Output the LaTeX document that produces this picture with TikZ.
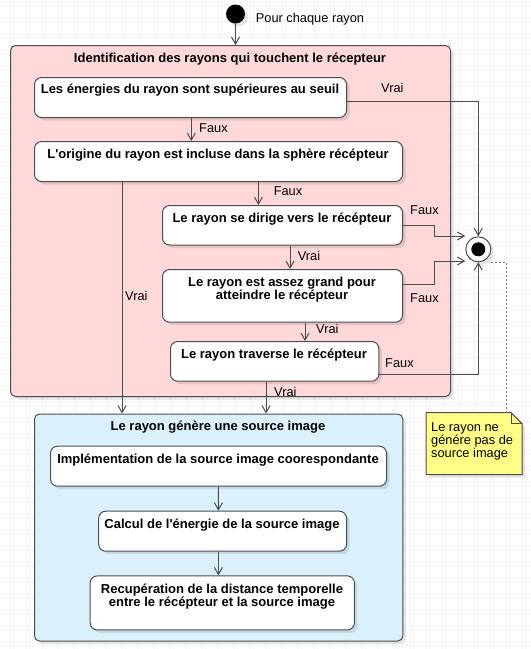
\documentclass[tikz,border=0pt]{standalone}
\usepackage{fontspec}
\setmainfont{Liberation Sans}[Ligatures=TeXOff]
\usetikzlibrary{arrows.meta,shadows,calc}
\definecolor{pinkf}{HTML}{FFD9D9}
\definecolor{bluef}{HTML}{DAF1FC}
\definecolor{notef}{HTML}{FFFF88}
\definecolor{edgec}{HTML}{4D4D4D}
\definecolor{gridc}{HTML}{F3F3F3}
\newcommand{\twoc}[2]{\begin{tabular}[t]{@{}c@{}}#1\\#2\end{tabular}}
\begin{document}
\begin{tikzpicture}[x=1pt,y=-1pt,
  font=\fontsize{12.8}{13.5}\selectfont,
  shd/.style={drop shadow={shadow xshift=3pt,shadow yshift=-3pt,fill=black,opacity=0.1}},
  container/.style={draw=edgec,line width=1pt,rounded corners=5pt,shd,inner sep=0pt,anchor=north west},
  stepbox/.style={draw=edgec,fill=white,line width=1pt,rounded corners=7pt,shd,inner sep=0pt,anchor=north west},
  btxt/.style={font=\fontsize{13}{13.5}\selectfont\bfseries,anchor=base,inner sep=0pt,align=center},
  lbl/.style={anchor=base west,inner sep=0pt},
  conn/.style={draw=edgec,line width=1pt,-{Straight Barb[length=7pt,width=8pt]}},
  ]
\useasboundingbox (0,0) rectangle (531,649);
\fill[white] (0,0) rectangle (531,649);
% grid
\begin{scope}[gridc,line width=0.6pt]
\foreach \x in {10.7,26.7,...,531} \draw (\x,0) -- (\x,649);
\foreach \y in {5.3,21.3,...,649} \draw (0,\y) -- (531,\y);
\end{scope}

% start
\node[circle,fill=black,minimum size=19pt,inner sep=0pt,shd] (start) at (235.5,14) {};
\node[lbl] (startlbl) at (255.7,22) {Pour chaque rayon};

% pink container
\node[container,fill=pinkf,minimum width=440pt,minimum height=351pt] (pink) at (10,45) {};
\node[btxt] (pinkt) at (230,62) {Identification des rayons qui touchent le récepteur};

\node[stepbox,minimum width=312pt,minimum height=40pt] (b1) at (34,77) {};
\node[btxt] (b1t) at (190,93.7) {Les énergies du rayon sont supérieures au seuil};
\node[stepbox,minimum width=368pt,minimum height=40pt] (b2) at (34,141) {};
\node[btxt] (b2t) at (218,158.4) {L'origine du rayon est incluse dans la sphère récépteur};
\node[stepbox,minimum width=240pt,minimum height=39.5pt] (b3) at (162,205) {};
\node[btxt] (b3t) at (282,222.1) {Le rayon se dirige vers le récépteur};
\node[stepbox,minimum width=240pt,minimum height=52.7pt] (b4) at (162,269) {};
\node[btxt] (b4t) at (282,286.1) {\twoc{Le rayon est assez grand pour}{atteindre le récépteur}};
\node[stepbox,minimum width=208.3pt,minimum height=39.7pt] (b5) at (170,341) {};
\node[btxt] (b5t) at (274,358.4) {Le rayon traverse le récépteur};

% blue container
\node[container,fill=bluef,minimum width=368.3pt,minimum height=227pt] (blue) at (34,413.5) {};
\node[btxt] (bluet) at (218,430.8) {Le rayon génère une source image};
\node[stepbox,minimum width=336pt,minimum height=40pt] (b6) at (50,445.7) {};
\node[btxt] (b6t) at (218,463) {Implémentation de la source image coorespondante};
\node[stepbox,minimum width=247.8pt,minimum height=40pt] (b7) at (98.2,510.7) {};
\node[btxt] (b7t) at (222,528) {Calcul de l'énergie de la source image};
\node[stepbox,minimum width=264.2pt,minimum height=54pt] (b8) at (89.7,575.4) {};
\node[btxt] (b8t) at (222,593) {\twoc{Recupération de la distance temporelle}{entre le récépteur et la source image}};

% final node
\node[circle,draw=edgec,fill=white,line width=1pt,minimum size=25pt,inner sep=0pt,shd] (fin) at (478.3,249.3) {};
\node[circle,fill=black,minimum size=14pt,inner sep=0pt] (finin) at (fin) {};

% note
\node[inner sep=0pt,minimum width=95.7pt,minimum height=61.6pt,anchor=north west] (note) at (426,412.7) {};
\fill[black,opacity=0.1] ([xshift=3pt,yshift=-3pt]note.south west) -- ([xshift=3pt,yshift=-3pt]note.north west) -- ([xshift=-8pt,yshift=-3pt]note.north east) -- ([xshift=3pt,yshift=-14pt]note.north east) -- ([xshift=3pt,yshift=-3pt]note.south east) -- cycle;
\draw[edgec,fill=notef,line width=1pt] (note.south west) -- (note.north west) -- ([xshift=-11pt]note.north east) -- ([yshift=-11pt]note.north east) -- (note.south east) -- cycle;
\draw[edgec,line width=1pt] ([xshift=-11pt]note.north east) -- ([xshift=-11pt,yshift=-11pt]note.north east) -- ([yshift=-11pt]note.north east);
\node[anchor=base west,inner sep=0pt,font=\fontsize{12.8}{12.5}\selectfont] (notet) at (431,431.1) {\begin{tabular}[t]{@{}l@{}}Le rayon ne\\génére pas de\\source image\end{tabular}};

% connectors
\draw[conn] (start.south) -- (start.south |- pink.north);
\draw[conn] ([xshift=157.3pt]b1.south west) -- ([xshift=157.3pt]b2.north west);
\node[lbl] (l1) at (199,132.1) {Faux};
\draw[conn] ([yshift=-4pt]b1.east) -| (fin.north);
\node[lbl] (l2) at (381,92) {Vrai};
\draw[conn] ([xshift=224.4pt]b2.south west) -- ([xshift=96.4pt]b3.north west);
\node[lbl] (l3) at (273.6,195) {Faux};
\draw[conn] ([xshift=88pt]b2.south west) -- ([xshift=88pt]blue.north west);
\node[lbl] (l4) at (125,300.4) {Vrai};
\draw[conn] (b3.east) -- ([xshift=31.3pt]b3.east) |- ([yshift=13.3pt]fin.west);
\node[lbl] (l5) at (410,214.3) {Faux};
\draw[conn] ([xshift=128pt]b3.south west) -- ([xshift=128pt]b4.north west);
\node[lbl] (l6) at (297.7,260) {Vrai};
\draw[conn] ([yshift=11pt]b4.east) -- ([xshift=31.3pt,yshift=11pt]b4.east) |- ([yshift=-11.7pt]fin.west);
\node[lbl] (l7) at (410,302.7) {Faux};
\draw[conn] ([xshift=143pt]b4.south west) -- ([xshift=135pt]b5.north west);
\node[lbl] (l8) at (316,333.7) {Vrai};
\draw[conn] ([yshift=-13.5pt]b5.east) -| (fin.south);
\node[lbl] (l9) at (385,367) {Faux};
\draw[conn] ([xshift=96pt]b5.south west) -- ([xshift=232pt]blue.north west);
\node[lbl] (l10) at (274,396.7) {Vrai};
\draw[conn] ([xshift=168.3pt]b6.south west) -- ([xshift=120.2pt]b7.north west);
\draw[conn] ([xshift=120.2pt]b7.south west) -- ([xshift=128.7pt]b8.north west);
\draw[gray,line width=1pt,dash pattern=on 2pt off 2pt] (fin.east |- fin.south) -| ([xshift=32.15pt]note.north);
\end{tikzpicture}
\end{document}
